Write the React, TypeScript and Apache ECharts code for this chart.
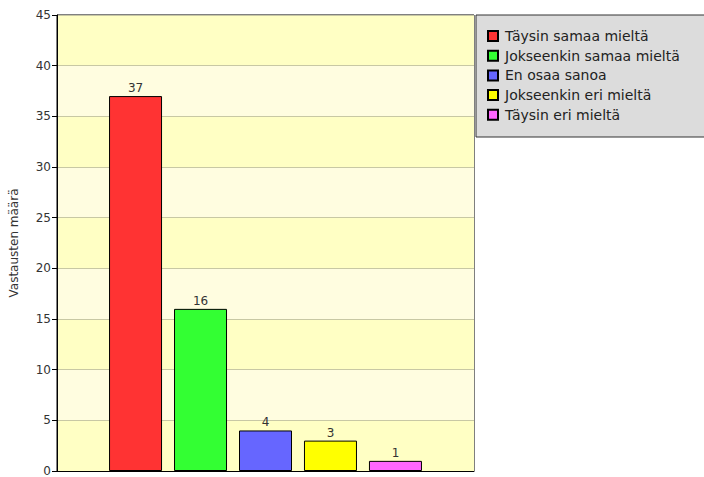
import React, { useEffect, useRef } from "react";
import * as echarts from "echarts";

const seriesNames = [
  "Täysin samaa mieltä",
  "Jokseenkin samaa mieltä",
  "En osaa sanoa",
  "Jokseenkin eri mieltä",
  "Täysin eri mieltä",
];
const seriesValues = [37, 16, 4, 3, 1];
const seriesColors = ["#ff3333", "#33ff33", "#6666ff", "#ffff00", "#ff66ff"];
const categories = [""];
const yAxisTitle = "Vastausten määrä";

const FONT = "'DejaVu Sans', sans-serif";

export default function App() {
  const ref = useRef<HTMLDivElement>(null);
  useEffect(() => {
    if (!ref.current) return;
    const chart = echarts.init(ref.current, null, { renderer: "svg" });
    chart.setOption({
      animation: false,
      textStyle: { fontFamily: FONT },
      grid: {
        left: 54,
        top: 15,
        right: 230,
        bottom: 3,
        show: true,
        borderColor: "#000",
        borderWidth: 1,
      },
      graphic: [
        {
          type: "rect",
          shape: { x: 476, y: 15, width: 240, height: 122 },
          style: { fill: "#dcdcdc", stroke: "#333", lineWidth: 1 },
          z: -1,
        },
      ],
      legend: {
        orient: "vertical",
        left: 487,
        top: 29,
        padding: 0,
        itemWidth: 10,
        itemHeight: 10,
        itemGap: 5.7,
        icon: "rect",
        textStyle: {
          fontFamily: FONT,
          fontSize: 14,
          lineHeight: 14,
          color: "#222",
          padding: [0, 0, 0, 2],
        },
        data: seriesNames,
      },
      xAxis: {
        type: "category",
        data: categories,
        axisLine: { show: true, lineStyle: { color: "#000" } },
        axisTick: { show: false },
        axisLabel: { show: false },
      },
      yAxis: {
        type: "value",
        min: 0,
        max: 45,
        interval: 5,
        name: yAxisTitle,
        nameLocation: "middle",
        nameRotate: 90,
        nameGap: 37,
        nameTextStyle: { fontFamily: FONT, fontSize: 12, color: "#333" },
        axisLine: { show: true, lineStyle: { color: "#000" } },
        axisTick: { show: true, length: 5, lineStyle: { color: "#000" } },
        axisLabel: { fontFamily: FONT, fontSize: 12, color: "#333", margin: 6 },
        splitLine: { show: true, lineStyle: { color: "#c8c8a4", width: 1 } },
        splitArea: { show: true, areaStyle: { color: ["#ffffc4", "#fffde0"] } },
      },
      series: seriesNames.map((name, i) => ({
        name,
        type: "bar",
        data: [seriesValues[i]],
        barWidth: 53,
        barGap: "22.6%",
        itemStyle: { color: seriesColors[i], borderColor: "#000", borderWidth: 1 },
        label: {
          show: true,
          position: "top",
          distance: 2,
          fontFamily: FONT,
          fontSize: 12,
          color: "#333",
        },
      })),
    });
    return () => chart.dispose();
  }, []);
  return <div ref={ref} style={{ width: 704, height: 477, position: "absolute", left: 0, top: 0 }} />;
}
